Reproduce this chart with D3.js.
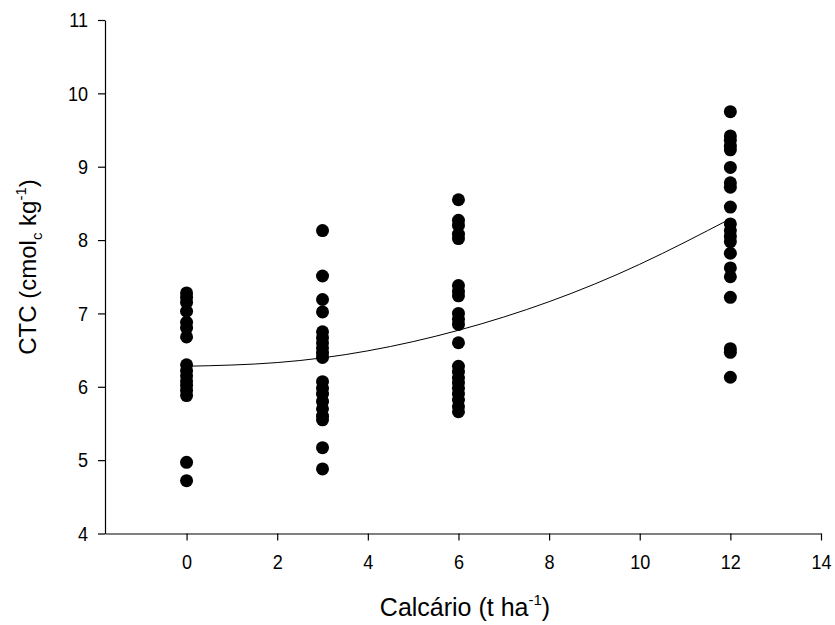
<!DOCTYPE html>
<html>
<head>
<meta charset="utf-8">
<script src="https://cdn.jsdelivr.net/npm/d3@7"></script>
<style>
  body { margin: 0; background: #fff; }
  svg { display: block; font-family: "Liberation Sans", Arial, sans-serif; }
  .tick text { font-size: 21px; fill: #000; }
  .axis-label { fill: #000; }
</style>
</head>
<body>
<div id="chart"></div>
<script>
// doses of limestone (t/ha) and CTC readings at each dose
const dose0 = [7.28, 7.22, 7.15, 7.03, 6.88, 6.80, 6.68, 6.30, 6.22, 6.15, 6.08, 6.02, 5.95, 5.88, 4.97, 4.72];
const dose3 = [8.13, 7.51, 7.19, 7.02, 6.75, 6.67, 6.60, 6.53, 6.46, 6.40, 6.07, 5.98, 5.90, 5.80, 5.70, 5.60, 5.55, 5.17, 4.88];
const dose6 = [8.55, 8.27, 8.20, 8.08, 8.02, 7.38, 7.30, 7.24, 7.00, 6.92, 6.85, 6.60, 6.28, 6.20, 6.12, 6.05, 5.98, 5.90, 5.82, 5.73, 5.66];
const dose12 = [9.75, 9.42, 9.36, 9.28, 9.23, 8.99, 8.78, 8.72, 8.45, 8.22, 8.13, 8.05, 7.98, 7.82, 7.62, 7.50, 7.22, 6.52, 6.47, 6.13];

// fitted curve
const fitX = [0, 2, 4, 6, 8, 10, 12];
const fitY = [6.28, 6.33, 6.49, 6.77, 7.16, 7.67, 8.29];

const xTicks = [0, 2, 4, 6, 8, 10, 12, 14];
const yTicks = [4, 5, 6, 7, 8, 9, 10, 11];

const points = [
  ...dose0.map(v => ({ x: 0, y: v })),
  ...dose3.map(v => ({ x: 3, y: v })),
  ...dose6.map(v => ({ x: 6, y: v })),
  ...dose12.map(v => ({ x: 12, y: v }))
];

const W = 835, H = 625;
const squeeze = 0.86; // tick digits are narrower than plain Arial in the picture

const svg = d3.select("#chart").append("svg")
  .attr("width", W)
  .attr("height", H);

const xScale = d3.scaleLinear().domain([-1.8, 14]).range([105, 821]);
const yScale = d3.scaleLinear().domain([4, 11]).range([533.5, 20]);

// x axis
const xAxis = svg.append("g")
  .attr("transform", `translate(0,${yScale(4)})`)
  .call(d3.axisBottom(xScale).tickValues(xTicks).tickSize(7).tickPadding(14).tickSizeOuter(0));
xAxis.select(".domain").attr("stroke", "#000").attr("stroke-width", 1.2);
xAxis.selectAll(".tick line").attr("stroke-width", 1.2);
xAxis.selectAll(".tick text").attr("transform", `scale(${squeeze},1)`);

// y axis
const yPad = 10, yTick = 7;
const yAxis = svg.append("g")
  .attr("transform", `translate(${xScale(-1.8)},0)`)
  .call(d3.axisLeft(yScale).tickValues(yTicks).tickFormat(d3.format("d"))
    .tickSize(yTick).tickPadding(yPad).tickSizeOuter(0));
yAxis.select(".domain").attr("stroke", "#000").attr("stroke-width", 1.2);
yAxis.selectAll(".tick line").attr("stroke-width", 1.2);
yAxis.selectAll(".tick text")
  .attr("x", -(yPad + yTick) / squeeze)
  .attr("transform", `scale(${squeeze},1)`);

// axis titles
const xt = svg.append("text")
  .attr("class", "axis-label")
  .attr("font-size", 25)
  .attr("x", 465)
  .attr("y", 616)
  .attr("text-anchor", "middle");
xt.append("tspan").text("Calcário (t ha");
xt.append("tspan").attr("font-size", 15).attr("dy", -11).text("-1");
xt.append("tspan").attr("dy", 11).text(")");

const yt = svg.append("text")
  .attr("class", "axis-label")
  .attr("font-size", 24)
  .attr("transform", "translate(36,267) rotate(-90)")
  .attr("text-anchor", "middle");
yt.append("tspan").text("CTC (cmol");
yt.append("tspan").attr("font-size", 15).attr("dy", 6).text("c");
yt.append("tspan").attr("dy", -6).text(" kg");
yt.append("tspan").attr("font-size", 15).attr("dy", -10).text("-1");
yt.append("tspan").attr("dy", 10).text(")");

// fitted line
const line = d3.line()
  .x((d, i) => xScale(fitX[i]))
  .y(d => yScale(d))
  .curve(d3.curveNatural);

svg.append("path")
  .datum(fitY)
  .attr("fill", "none")
  .attr("stroke", "#000")
  .attr("stroke-width", 1)
  .attr("d", line);

// points
svg.selectAll("circle.pt")
  .data(points)
  .enter()
  .append("circle")
  .attr("class", "pt")
  .attr("cx", d => xScale(d.x))
  .attr("cy", d => yScale(d.y))
  .attr("r", 6.5)
  .attr("fill", "#000");
</script>
</body>
</html>
